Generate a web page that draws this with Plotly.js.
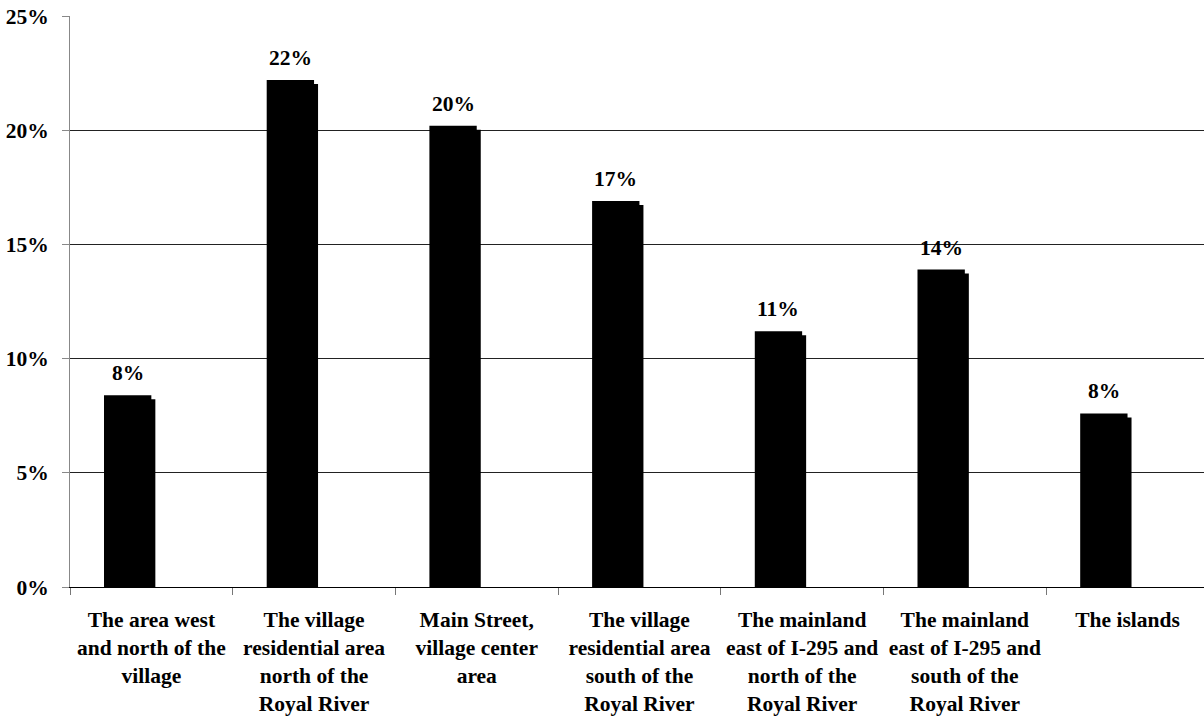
<!DOCTYPE html>
<html>
<head>
<meta charset="utf-8">
<script src="https://cdn.plot.ly/plotly-3.0.1.min.js"></script>
<style>
html,body{margin:0;padding:0;background:#fff;overflow:hidden;}
#chart{width:1204px;height:719px;}
</style>
</head>
<body>
<div id="chart"></div>
<script>
// Data
const categories = ["c1","c2","c3","c4","c5","c6","c7"];
const categoryLabels = [
  "The area west<br>and north of the<br>village",
  "The village<br>residential area<br>north of the<br>Royal River",
  "Main Street,<br>village center<br>area",
  "The village<br>residential area<br>south of the<br>Royal River",
  "The mainland<br>east of I-295 and<br>north of the<br>Royal River",
  "The mainland<br>east of I-295 and<br>south of the<br>Royal River",
  "The islands"
];
const values = [8.4, 22.2, 20.2, 16.9, 11.2, 13.9, 7.6];
const valueLabels = ["8%","22%","20%","17%","11%","14%","8%"];
const yTickVals = [0,5,10,15,20,25];
const yTickText = ["0%","5%","10%","15%","20%","25%"];

const FONT = "Times New Roman, Liberation Serif, serif";
const barW = 0.291;
const pxPerUnitY = 571/25;
const shadowDrop = 4/pxPerUnitY;

const shadow = {
  type:'bar', x:categories, y:values.map(v=>v-shadowDrop),
  width:barW, offset:-barW+0.0246,
  marker:{color:'#000', line:{width:0}},
  hoverinfo:'skip', showlegend:false
};
const main = {
  type:'bar', x:categories, y:values,
  width:barW, offset:-barW,
  marker:{color:'#000', line:{width:0}},
  showlegend:false
};

const annotations = categories.map((c,i)=>({
  x:c, y:values[i], xref:'x', yref:'y',
  xshift:-23.7, yshift:8, yanchor:'bottom', xanchor:'center',
  text:'<b>'+valueLabels[i]+'</b>', showarrow:false,
  font:{family:FONT, size:21.5, color:'#000'}
}));

const layout = {
  width:1204, height:719,
  margin:{l:70, r:0, t:16, b:132, pad:0},
  paper_bgcolor:'#fff', plot_bgcolor:'#fff',
  font:{family:FONT},
  barmode:'overlay',
  showlegend:false,
  xaxis:{
    type:'category',
    range:[-0.5, 6.47],
    tickvals:categories, ticktext:categoryLabels.map(s=>'<b>'+s+'</b>'),
    tickson:'boundaries',
    ticks:'outside', ticklen:7, tickcolor:'#777', tickwidth:1,
    showline:true, linecolor:'#000', linewidth:1,
    showgrid:false, zeroline:false,
    tickangle:0,
    ticklabelstandoff:13,
    tickfont:{family:FONT, size:21.5, color:'#000'}
  },
  yaxis:{
    range:[0,25],
    tickvals:yTickVals, ticktext:yTickText.map(s=>'<b>'+s+'</b>'),
    ticks:'outside', ticklen:7, tickcolor:'#888', tickwidth:1,
    showline:true, linecolor:'#888', linewidth:1,
    showgrid:true, gridcolor:'#222', gridwidth:1,
    zeroline:false,
    ticklabelstandoff:9,
    tickfont:{family:FONT, size:21.5, color:'#000'}
  },
  annotations:annotations
};

Plotly.newPlot('chart',[shadow, main],layout,{displayModeBar:false, staticPlot:true});
</script>
</body>
</html>
